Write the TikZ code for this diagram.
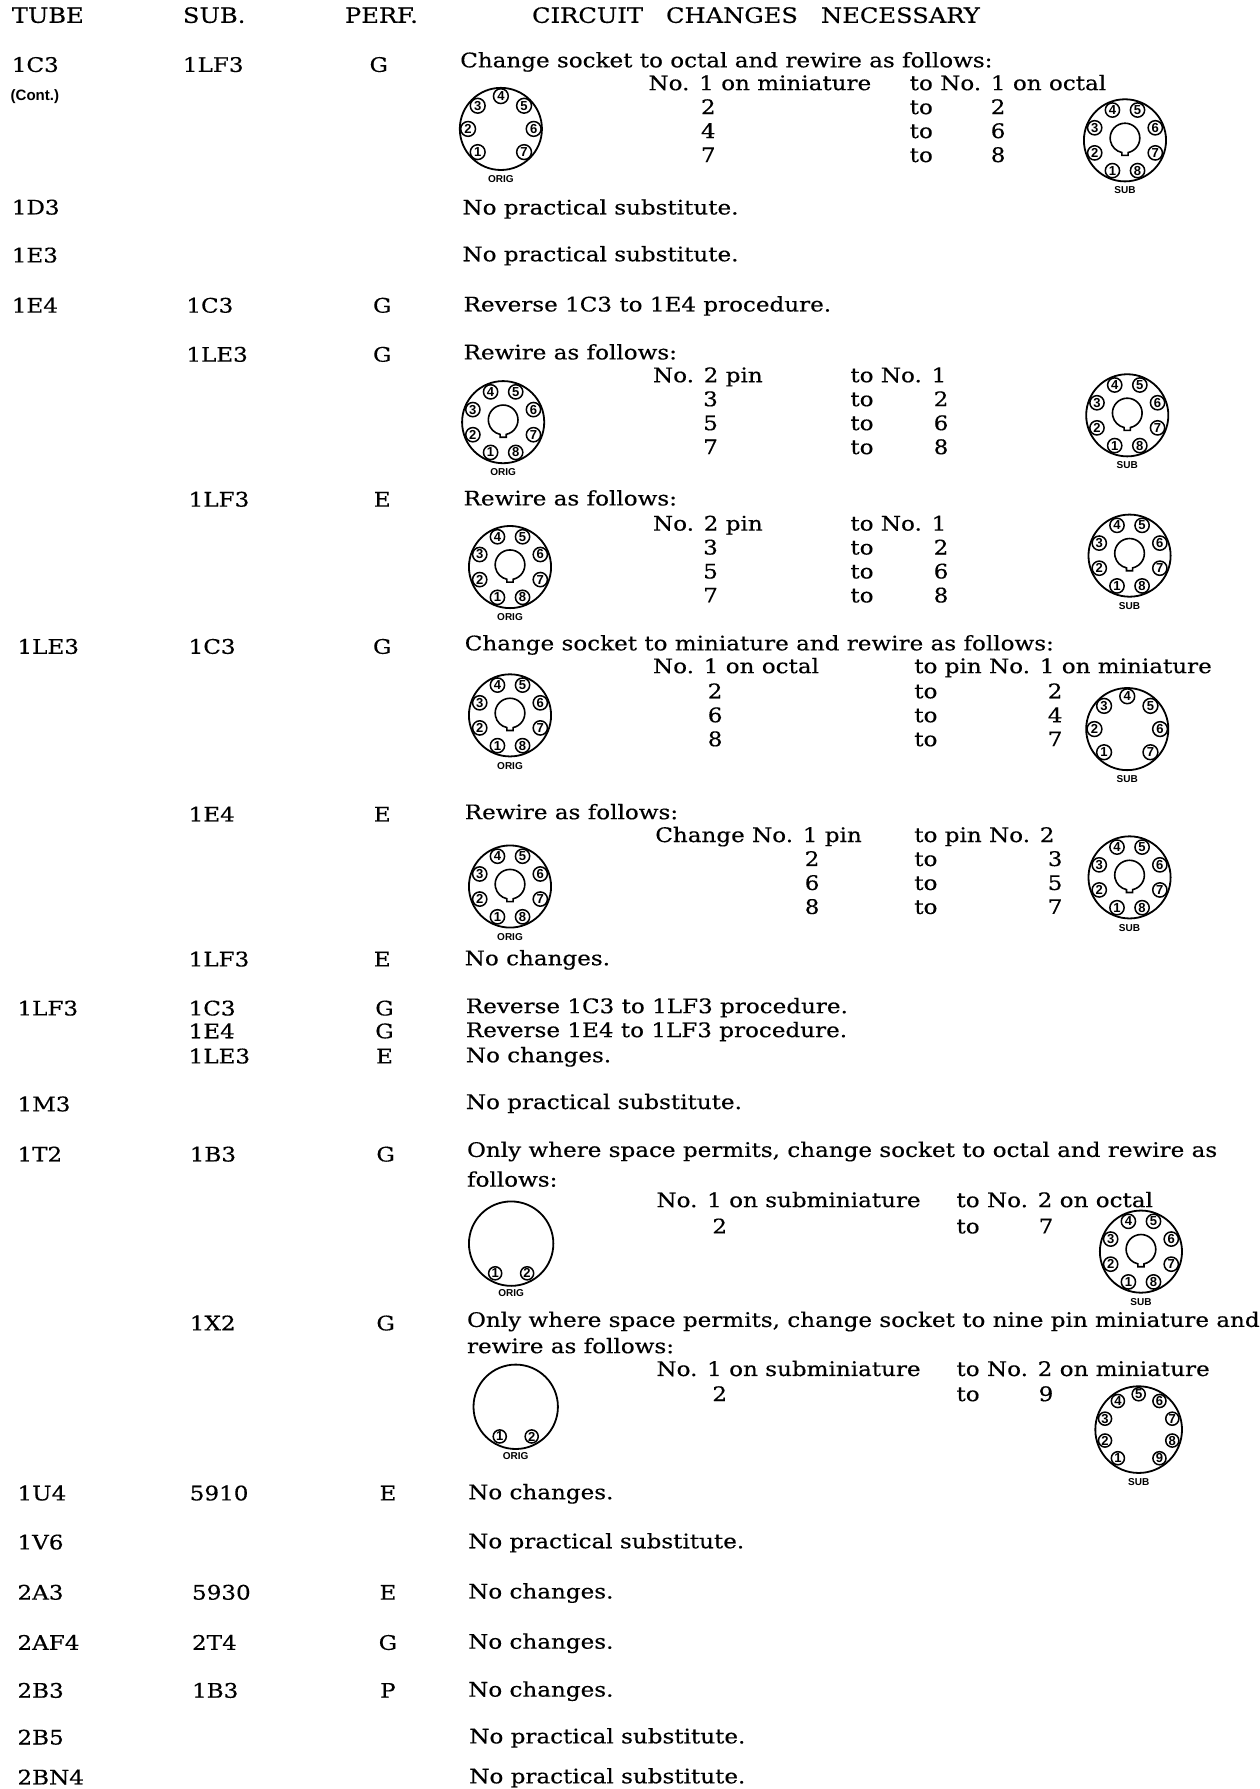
\documentclass[tikz,border=0pt]{standalone}
\usepackage{fontspec}
\setmainfont{DejaVu Serif}[FakeStretch=1.15, FakeBold=0.4]
\setsansfont{Liberation Sans}
\usepackage{tikz}

\begin{document}
\begin{tikzpicture}[
            x = 0.02cm, y = -0.02cm, % page units, y runs down
            font = \fontsize{10}{12}\selectfont, % body text
            txt/.style = {anchor=base west, inner sep=0pt}, % left aligned text
            grade/.style = {anchor=base, inner sep=0pt}, % centred PERF. letter
            pinhole/.style = {circle, draw, line width=0.75pt, inner sep=0pt, minimum size=0.25cm,
                font=\sffamily\bfseries\fontsize{6.5}{6.5}\selectfont},
            socklabel/.style = {inner sep=0pt, font=\sffamily\bfseries\fontsize{5}{5}\selectfont},
            miniseven/.pic = {
                \draw[line width=0.9pt] (0,0) circle[radius=0.72cm];
                \foreach \n/\a in {1/225,2/180,3/135,4/90,5/45,6/0,7/-45}
                    \node[pinhole, minimum size=0.26cm] (-\n) at (\a:0.575cm) {\n};
                \node[socklabel] (-lbl) at (0,-0.88cm) {#1};
            },
            octal/.pic = {
                \draw[line width=0.9pt] (0,0) circle[radius=0.72cm];
                \foreach \n/\a in {1/247.5,2/202.5,3/157.5,4/112.5,5/67.5,6/22.5,7/-22.5,8/-67.5}
                    \node[pinhole] (-\n) at (\a:0.575cm) {\n};
                \draw[line width=0.8pt] (0,0.04cm) ++(-78:0.26cm) arc[start angle=-78, end angle=258, radius=0.26cm]
                    -- ++(0,-0.05cm) -- ++(0.108cm,0) -- cycle; % key
                \node[socklabel] (-lbl) at (0,-0.88cm) {#1};
            },
            ninepin/.pic = {
                \draw[line width=0.9pt] (0,0) circle[radius=0.76cm];
                \foreach \n/\a in {1/234,2/198,3/162,4/126,5/90,6/54,7/18,8/-18,9/-54}
                    \node[pinhole, minimum size=0.23cm] (-\n) at (\a:0.62cm) {\n};
                \node[socklabel] (-lbl) at (0,-0.92cm) {#1};
            },
            submini/.pic = {
                \draw[line width=0.9pt] (0,0) circle[radius=0.74cm];
                \node[pinhole, minimum size=0.23cm] (-1) at (-0.28cm,-0.52cm) {1};
                \node[pinhole, minimum size=0.23cm] (-2) at (0.28cm,-0.52cm) {2};
                \node[socklabel] (-lbl) at (0,-0.86cm) {#1};
            }
        ]

    \useasboundingbox (0,0) rectangle (1104,1568);

    % column heads
    \node[txt, font=\fontsize{10.5}{12}\selectfont] (hTube) at (10,20) {TUBE};
    \node[txt, font=\fontsize{10.5}{12}\selectfont] (hSub) at (160,20) {SUB.};
    \node[txt, font=\fontsize{10.5}{12}\selectfont] (hPerf) at (302,20) {PERF.};
    \node[txt, font=\fontsize{10.5}{12}\selectfont] (hCirc) at (466,20) {CIRCUIT\ \ \ CHANGES\ \ \ NECESSARY};

    % 1C3
    \node[txt] (t1C3) at (10,63) {1C3};
    \node[txt, font=\sffamily\bfseries\fontsize{7.5}{8}\selectfont] (tCont) at (9,88) {(Cont.)};
    \node[txt] (s1C3) at (160,63) {1LF3};
    \node[grade] (p1C3) at (332,63) {G};
    \node[txt] (c1C3) at (403,59) {Change socket to octal and rewire as follows:};
    \node[txt] (a1C3) at (568,79) {No. 1 on miniature};
    \node[txt] (b1C3) at (797,79) {to No. 1 on octal};
    \foreach \i/\f/\t [count=\k] in {100/2/2,121/4/6,142/7/8} {
        \node[txt] (f1C3\k) at (614,\i) {\f};
        \node[txt] (o1C3\k) at (797,\i) {to};
        \node[txt] (e1C3\k) at (868,\i) {\t};
    }
    \pic (o1C3) at (439,113) {miniseven=ORIG};
    \pic (n1C3) at (986,123) {octal=SUB};

    % 1D3, 1E3
    \node[txt] (t1D3) at (10,188) {1D3};
    \node[txt] (c1D3) at (405,188) {No practical substitute.};
    \node[txt] (t1E3) at (10,230) {1E3};
    \node[txt] (c1E3) at (405,229) {No practical substitute.};

    % 1E4
    \node[txt] (t1E4) at (10,274) {1E4};
    \node[txt] (s1E4a) at (163,274) {1C3};
    \node[grade] (p1E4a) at (335,274) {G};
    \node[txt] (c1E4a) at (406,273) {Reverse 1C3 to 1E4 procedure.};

    \node[txt] (s1E4b) at (163,317) {1LE3};
    \node[grade] (p1E4b) at (335,317) {G};
    \node[txt] (c1E4b) at (406,315) {Rewire as follows:};
    \node[txt] (a1E4b) at (572,335) {No. 2 pin};
    \node[txt] (b1E4b) at (745,335) {to No. 1};
    \foreach \i/\f/\t [count=\k] in {356/3/2,377/5/6,398/7/8} {
        \node[txt] (f1E4b\k) at (616,\i) {\f};
        \node[txt] (o1E4b\k) at (745,\i) {to};
        \node[txt] (e1E4b\k) at (818,\i) {\t};
    }
    \pic (o1E4b) at (441,370) {octal=ORIG};
    \pic (n1E4b) at (988,364) {octal=SUB};

    \node[txt] (s1E4c) at (165,444) {1LF3};
    \node[grade] (p1E4c) at (335,444) {E};
    \node[txt] (c1E4c) at (406,443) {Rewire as follows:};
    \node[txt] (a1E4c) at (572,465) {No. 2 pin};
    \node[txt] (b1E4c) at (745,465) {to No. 1};
    \foreach \i/\f/\t [count=\k] in {486/3/2,507/5/6,528/7/8} {
        \node[txt] (f1E4c\k) at (616,\i) {\f};
        \node[txt] (o1E4c\k) at (745,\i) {to};
        \node[txt] (e1E4c\k) at (818,\i) {\t};
    }
    \pic (o1E4c) at (447,497) {octal=ORIG};
    \pic (n1E4c) at (990,487) {octal=SUB};

    % 1LE3
    \node[txt] (t1LE3) at (15,573) {1LE3};
    \node[txt] (s1LE3a) at (165,573) {1C3};
    \node[grade] (p1LE3a) at (335,573) {G};
    \node[txt] (c1LE3a) at (407,570) {Change socket to miniature and rewire as follows:};
    \node[txt] (a1LE3a) at (572,590) {No. 1 on octal};
    \node[txt] (b1LE3a) at (801,590) {to pin No. 1 on miniature};
    \foreach \i/\f/\t [count=\k] in {612/2/2,633/6/4,654/8/7} {
        \node[txt] (f1LE3a\k) at (620,\i) {\f};
        \node[txt] (o1LE3a\k) at (801,\i) {to};
        \node[txt] (e1LE3a\k) at (918,\i) {\t};
    }
    \pic (o1LE3a) at (447,627) {octal=ORIG};
    \pic (n1LE3a) at (988,639) {miniseven=SUB};

    \node[txt] (s1LE3b) at (165,720) {1E4};
    \node[grade] (p1LE3b) at (335,720) {E};
    \node[txt] (c1LE3b) at (407,718) {Rewire as follows:};
    \node[txt] (a1LE3b) at (574,738) {Change No. 1 pin};
    \node[txt] (b1LE3b) at (801,738) {to pin No. 2};
    \foreach \i/\f/\t [count=\k] in {759/2/3,780/6/5,801/8/7} {
        \node[txt] (f1LE3b\k) at (705,\i) {\f};
        \node[txt] (o1LE3b\k) at (801,\i) {to};
        \node[txt] (e1LE3b\k) at (918,\i) {\t};
    }
    \pic (o1LE3b) at (447,777) {octal=ORIG};
    \pic (n1LE3b) at (990,769) {octal=SUB};

    \node[txt] (s1LE3c) at (165,847) {1LF3};
    \node[grade] (p1LE3c) at (335,847) {E};
    \node[txt] (c1LE3c) at (407,846) {No changes.};

    % 1LF3
    \node[txt] (t1LF3) at (15,890) {1LF3};
    \node[txt] (s1LF3a) at (165,890) {1C3};
    \node[txt] (s1LF3b) at (165,910) {1E4};
    \node[txt] (s1LF3c) at (165,932) {1LE3};
    \node[grade] (p1LF3a) at (337,890) {G};
    \node[grade] (p1LF3b) at (337,910) {G};
    \node[grade] (p1LF3c) at (337,932) {E};
    \node[txt] (c1LF3a) at (408,888) {Reverse 1C3 to 1LF3 procedure.};
    \node[txt] (c1LF3b) at (408,909) {Reverse 1E4 to 1LF3 procedure.};
    \node[txt] (c1LF3c) at (408,931) {No changes.};

    % 1M3
    \node[txt] (t1M3) at (15,974) {1M3};
    \node[txt] (c1M3) at (408,972) {No practical substitute.};

    % 1T2
    \node[txt] (t1T2) at (15,1018) {1T2};
    \node[txt] (s1T2a) at (166,1018) {1B3};
    \node[grade] (p1T2a) at (338,1018) {G};
    \node[txt] (c1T2a) at (409,1014) {Only where space permits, change socket to octal and rewire as};
    \node[txt] (d1T2a) at (409,1040) {follows:};
    \node[txt] (a1T2a) at (575,1058) {No. 1 on subminiature};
    \node[txt] (b1T2a) at (838,1058) {to No. 2 on octal};
    \node[txt] (f1T2a) at (624,1081) {2};
    \node[txt] (o1T2a) at (838,1081) {to};
    \node[txt] (e1T2a) at (910,1081) {7};
    \pic (o1T2a) at (448,1090) {submini=ORIG};
    \pic (n1T2a) at (1000,1097) {octal=SUB};

    \node[txt] (s1T2b) at (166,1166) {1X2};
    \node[grade] (p1T2b) at (338,1166) {G};
    \node[txt] (c1T2b) at (409,1163) {Only where space permits, change socket to nine pin miniature and};
    \node[txt] (d1T2b) at (409,1186) {rewire as follows:};
    \node[txt] (a1T2b) at (575,1206) {No. 1 on subminiature};
    \node[txt] (b1T2b) at (838,1206) {to No. 2 on miniature};
    \node[txt] (f1T2b) at (624,1228) {2};
    \node[txt] (o1T2b) at (838,1228) {to};
    \node[txt] (e1T2b) at (910,1228) {9};
    \pic (o1T2b) at (452,1233) {submini=ORIG};
    \pic (n1T2b) at (998,1253) {ninepin=SUB};

    % remaining rows
    \node[txt] (t1U4) at (15,1315) {1U4};
    \node[txt] (s1U4) at (166,1315) {5910};
    \node[grade] (p1U4) at (340,1315) {E};
    \node[txt] (c1U4) at (410,1314) {No changes.};

    \node[txt] (t1V6) at (15,1358) {1V6};
    \node[txt] (c1V6) at (410,1357) {No practical substitute.};

    \node[txt] (t2A3) at (15,1402) {2A3};
    \node[txt] (s2A3) at (168,1402) {5930};
    \node[grade] (p2A3) at (340,1402) {E};
    \node[txt] (c2A3) at (410,1401) {No changes.};

    \node[txt] (t2AF4) at (15,1446) {2AF4};
    \node[txt] (s2AF4) at (168,1446) {2T4};
    \node[grade] (p2AF4) at (340,1446) {G};
    \node[txt] (c2AF4) at (410,1445) {No changes.};

    \node[txt] (t2B3) at (15,1488) {2B3};
    \node[txt] (s2B3) at (168,1488) {1B3};
    \node[grade] (p2B3) at (340,1488) {P};
    \node[txt] (c2B3) at (410,1487) {No changes.};

    \node[txt] (t2B5) at (15,1529) {2B5};
    \node[txt] (c2B5) at (411,1528) {No practical substitute.};

    \node[txt] (t2BN4) at (15,1564) {2BN4};
    \node[txt] (c2BN4) at (411,1563) {No practical substitute.};

\end{tikzpicture}
\end{document}
